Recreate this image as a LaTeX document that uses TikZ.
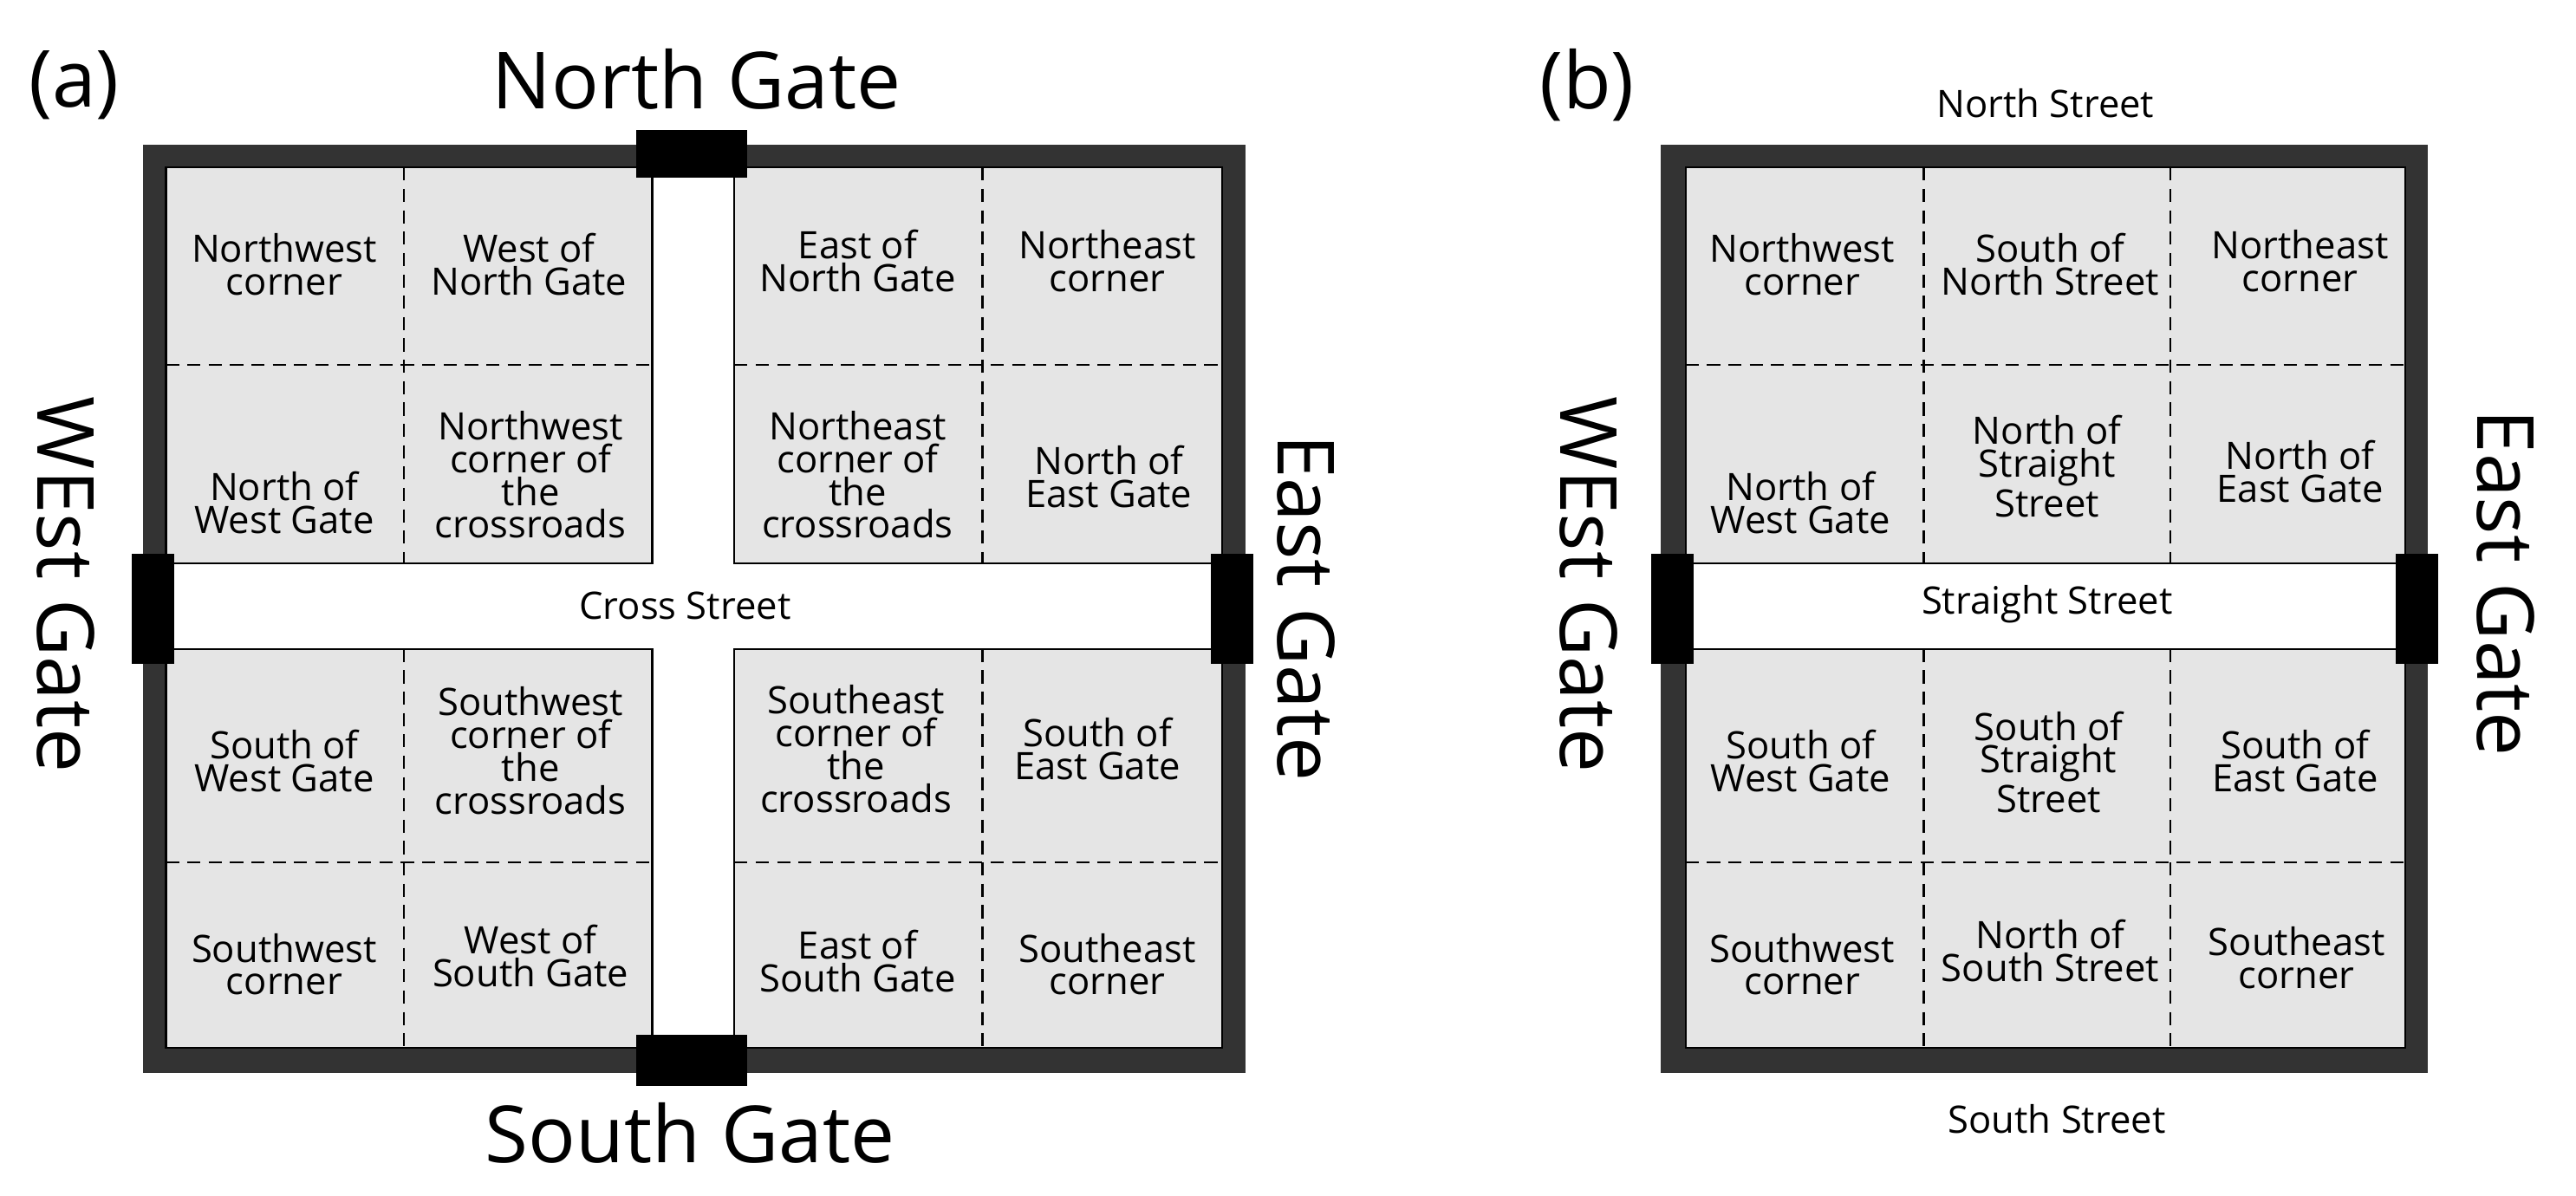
\documentclass[tikz,border=0pt]{standalone}
\usepackage{fontspec}
\setmainfont{Open Sans}
\begin{document}
\begin{tikzpicture}[x=0.5pt,y=-0.5pt,
 cell/.style={align=center,font=\fontsize{11.5}{10}\selectfont,inner sep=0pt},
 big/.style={font=\fontsize{24}{24}\selectfont,inner sep=0pt},
 mid/.style={font=\fontsize{11.5}{12}\selectfont,inner sep=0pt},
 wall/.style={fill=black!80},
 blk/.style={fill=black!10,draw=black,line width=0.6pt},
 gate/.style={fill=black},
 dsh/.style={dashed,line width=0.6pt,dash pattern=on 4pt off 2.5pt}]
\useasboundingbox (0,0) rectangle (1568,728);
% ---------- (a)
\fill[wall] (87,88) rectangle (758,653);
\fill[white] (101,102) rectangle (744,638);
\path[blk] (101,102) rectangle (397,343);
\path[blk] (447,102) rectangle (744,343);
\path[blk] (101,395) rectangle (397,638);
\path[blk] (447,395) rectangle (744,638);
\draw[dsh] (246,102)--(246,343) (246,395)--(246,638) (598,102)--(598,343) (598,395)--(598,638);
\draw[dsh] (101,222)--(397,222) (447,222)--(744,222) (101,525)--(397,525) (447,525)--(744,525);
\fill[gate] (387,79) rectangle (455,108);
\fill[gate] (387,630) rectangle (455,661);
\fill[gate] (80,337) rectangle (106,404);
\fill[gate] (737,337) rectangle (763,404);
\node[big] (na) at (45,52) {(a)};
\node[big] (ng) at (424,48) {North Gate};
\node[big] (sg) at (420,690) {South Gate};
\node[big,rotate=-90] (wg) at (40,356) {WEst Gate};
\node[big,rotate=-90] (eg) at (795,370) {East Gate};
\node[mid] (cs) at (417,369) {Cross Street};
\node[cell] (a1) at (173,161) {Northwest\\corner};
\node[cell] (a2) at (322,161) {West of\\North Gate};
\node[cell] (a3) at (522,159) {East of\\North Gate};
\node[cell] (a4) at (674,159) {Northeast\\corner};
\node[cell] (a5) at (173,306) {North of\\West Gate};
\node[cell] (a6) at (323,289) {Northwest\\corner of\\the\\crossroads};
\node[cell] (a7) at (522,289) {Northeast\\corner of\\the\\crossroads};
\node[cell] (a8) at (675,290) {North of\\East Gate};
\node[cell] (a9) at (173,463) {South of\\West Gate};
\node[cell] (a10) at (323,457) {Southwest\\corner of\\the\\crossroads};
\node[cell] (a11) at (521,456) {Southeast\\corner of\\the\\crossroads};
\node[cell] (a12) at (668,456) {South of\\East Gate};
\node[cell] (a13) at (173,587) {Southwest\\corner};
\node[cell] (a14) at (323,582) {West of\\South Gate};
\node[cell] (a15) at (522,585) {East of\\South Gate};
\node[cell] (a16) at (674,587) {Southeast\\corner};
% ---------- (b)
\fill[wall] (1011,88) rectangle (1478,653);
\fill[white] (1026,102) rectangle (1464,638);
\path[blk] (1026,102) rectangle (1464,343);
\path[blk] (1026,395) rectangle (1464,638);
\draw[dsh] (1171,102)--(1171,343) (1171,395)--(1171,638) (1321,102)--(1321,343) (1321,395)--(1321,638);
\draw[dsh] (1026,222)--(1464,222) (1026,525)--(1464,525);
\fill[gate] (1005,337) rectangle (1031,404);
\fill[gate] (1458,337) rectangle (1484,404);
\node[big] (nb) at (966,52) {(b)};
\node[mid] (ns) at (1245,63) {North Street};
\node[mid] (ss) at (1252,681) {South Street};
\node[big,rotate=-90] (wgb) at (967,356) {WEst Gate};
\node[big,rotate=-90] (egb) at (1525,355) {East Gate};
\node[mid] (st) at (1246,368) {Straight Street};
\node[cell] (b1) at (1097,161) {Northwest\\corner};
\node[cell] (b2) at (1248,161) {South of\\North Street};
\node[cell] (b3) at (1400,159) {Northeast\\corner};
\node[cell] (b4) at (1096,306) {North of\\West Gate};
\node[cell] (b5) at (1246,284) {North of\\Straight\\Street};
\node[cell] (b6) at (1400,287) {North of\\East Gate};
\node[cell] (b7) at (1096,463) {South of\\West Gate};
\node[cell] (b8) at (1247,464) {South of\\Straight\\Street};
\node[cell] (b9) at (1397,463) {South of\\East Gate};
\node[cell] (b10) at (1097,587) {Southwest\\corner};
\node[cell] (b11) at (1248,579) {North of\\South Street};
\node[cell] (b12) at (1398,583) {Southeast\\corner};
\end{tikzpicture}
\end{document}
